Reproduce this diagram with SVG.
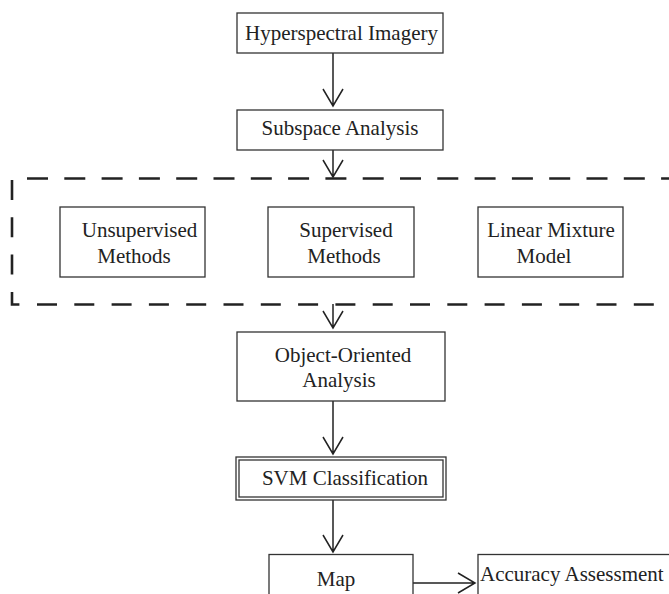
<svg xmlns="http://www.w3.org/2000/svg" width="669" height="594" viewBox="0 0 669 594">
<style>
.box{fill:#fff;stroke:#333;stroke-width:1.3}
.t{font-family:"Liberation Serif","Times New Roman",serif;font-size:21px;fill:#222;text-anchor:middle}
.c{stroke:#222;stroke-width:1.5;fill:none}
.d{stroke:#222;stroke-width:2.6;fill:none}
</style>
<rect width="669" height="594" fill="#fff"/>
<g id="group-dashed">
<path class="d" d="M12,180 V304.5 H20" stroke-dasharray="20 17.3"/>
<path class="d" d="M37,304.5 H669" stroke-dasharray="20 17.3"/>
<path class="d" d="M27,178.5 H669" stroke-dasharray="21 16.3"/>
</g>
<g id="connectors">
<path class="c" d="M333,53 V106 M323,89 L333,106 L343,89"/>
<path class="c" d="M333,150 V177 M323,160 L333,177 L343,160"/>
<path class="c" d="M333,304 V328 M323,311 L333,328 L343,311"/>
<path class="c" d="M333,401 V454 M323,437 L333,454 L343,437"/>
<path class="c" d="M333,500 V552 M323,535 L333,552 L343,535"/>
<path class="c" d="M413,583 H475 M458,573 L475,583 L458,593"/>
</g>
<g id="node-hyperspectral">
<rect class="box" x="237" y="13" width="206" height="40"/>
<text class="t" x="341.5" y="40">Hyperspectral Imagery</text>
</g>
<g id="node-subspace">
<rect class="box" x="237" y="110" width="206" height="40"/>
<text class="t" x="340" y="135">Subspace Analysis</text>
</g>
<g id="node-unsupervised">
<rect class="box" x="60" y="207" width="145" height="70"/>
<text class="t" x="139.5" y="237">Unsupervised</text>
<text class="t" x="134" y="263">Methods</text>
</g>
<g id="node-supervised">
<rect class="box" x="268" y="207" width="146" height="70"/>
<text class="t" x="346" y="237">Supervised</text>
<text class="t" x="344" y="263">Methods</text>
</g>
<g id="node-linear">
<rect class="box" x="478" y="207" width="145" height="70"/>
<text class="t" x="551" y="237">Linear Mixture</text>
<text class="t" x="544" y="263">Model</text>
</g>
<g id="node-object">
<rect class="box" x="237" y="332" width="208" height="69"/>
<text class="t" x="343" y="362">Object-Oriented</text>
<text class="t" x="339" y="387">Analysis</text>
</g>
<g id="node-svm">
<rect class="box" x="236" y="457" width="210" height="43"/>
<rect class="box" x="239" y="460" width="204" height="37"/>
<text class="t" x="345" y="485">SVM Classification</text>
</g>
<g id="node-map">
<rect class="box" x="269" y="554.5" width="144" height="60"/>
<text class="t" x="336" y="586">Map</text>
</g>
<g id="node-accuracy">
<rect class="box" x="478" y="554.5" width="220" height="60"/>
<text class="t" x="480" y="581" style="text-anchor:start">Accuracy Assessment</text>
</g>
</svg>
